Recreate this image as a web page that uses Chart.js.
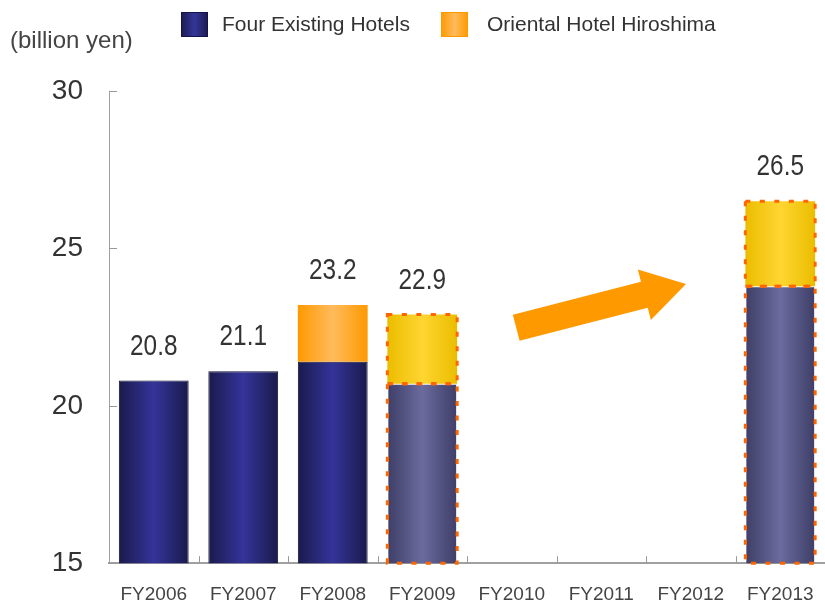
<!DOCTYPE html>
<html>
<head>
<meta charset="utf-8">
<script src="https://cdn.jsdelivr.net/npm/chart.js@4"></script>
<style>
  html, body { margin: 0; padding: 0; background: #fff; overflow: hidden; }
  #wrap { width: 825px; height: 606px; position: relative; }
</style>
</head>
<body>
<div id="wrap"><canvas id="salesChart"></canvas></div>
<script>
// values (billion yen)
const years = ['FY2006', 'FY2007', 'FY2008', 'FY2009', 'FY2010', 'FY2011', 'FY2012', 'FY2013'];
const existingHotels = [20.8, 21.1, 21.4, 20.7, null, null, null, 23.8];
const hiroshimaHotel = [0, 0, 1.8, 2.2, null, null, null, 2.7];
const totalLabels = ['20.8', '21.1', '23.2', '22.9', null, null, null, '26.5'];
const isPlan = [false, false, false, true, false, false, false, true];
const yTicks = [15, 20, 25, 30];

const SANS = "'Liberation Sans', Arial, sans-serif";
const BAR_PCT = 0.78;

// horizontal shading across each bar: dark edges, lighter middle
function barShade(context, edge, middle) {
    const chart = context.chart;
    const xScale = chart.scales.x;
    if (!chart.chartArea || !xScale || context.dataIndex === undefined) return edge;
    const cx = xScale.getPixelForValue(context.dataIndex);
    const half = (xScale.width / years.length) * BAR_PCT / 2;
    const g = chart.ctx.createLinearGradient(cx - half, 0, cx + half, 0);
    g.addColorStop(0, edge);
    g.addColorStop(0.5, middle);
    g.addColorStop(1, edge);
    return g;
}

const extrasPlugin = {
    id: 'extras',
    afterDatasetsDraw(chart) {
        const ctx = chart.ctx;
        const area = chart.chartArea;
        const xScale = chart.scales.x;
        const yScale = chart.scales.y;

        // dashed outline round the plan bars
        ctx.save();
        ctx.beginPath();
        ctx.rect(area.left, area.top - 50, area.right - area.left + 5, area.bottom - area.top + 52);
        ctx.clip();
        ctx.strokeStyle = '#ff6600';
        ctx.lineWidth = 3;
        ctx.setLineDash([5, 9.5]);
        chart.data.datasets.forEach((ds, di) => {
            const meta = chart.getDatasetMeta(di);
            meta.data.forEach((bar, i) => {
                if (!isPlan[i] || ds.data[i] == null) return;
                const p = bar.getProps(['x', 'y', 'base', 'width'], true);
                const bottom = Math.min(p.base, area.bottom);
                ctx.strokeRect(p.x - p.width / 2, p.y, p.width, bottom - p.y);
            });
        });
        ctx.restore();

        // total labels above each stack (slightly narrow, like the original face)
        ctx.save();
        ctx.fillStyle = '#333';
        ctx.font = '29px ' + SANS;
        ctx.textAlign = 'center';
        ctx.textBaseline = 'middle';
        totalLabels.forEach((txt, i) => {
            if (!txt) return;
            const top = yScale.getPixelForValue((existingHotels[i] || 0) + (hiroshimaHotel[i] || 0));
            const x = xScale.getPixelForValue(i);
            ctx.save();
            ctx.translate(x, top - 34);
            ctx.scale(0.84, 1);
            ctx.fillText(txt, 0, 0);
            ctx.restore();
        });
        ctx.restore();

        // growth arrow from FY2010 towards FY2013
        const tail = { x: xScale.getPixelForValue(4.05), y: yScale.getPixelForValue(22.48) };
        const tip = { x: xScale.getPixelForValue(5.947), y: yScale.getPixelForValue(23.87) };
        const dx = tip.x - tail.x, dy = tip.y - tail.y;
        const len = Math.hypot(dx, dy);
        const ux = dx / len, uy = dy / len;
        const nx = -uy, ny = ux;
        const shaft = 13.5, head = 26, headLen = 43;
        const bx = tip.x - ux * headLen, by = tip.y - uy * headLen;
        ctx.save();
        ctx.fillStyle = '#ff9900';
        ctx.beginPath();
        ctx.moveTo(tail.x + nx * shaft, tail.y + ny * shaft);
        ctx.lineTo(bx + nx * shaft, by + ny * shaft);
        ctx.lineTo(bx + nx * head, by + ny * head);
        ctx.lineTo(tip.x, tip.y);
        ctx.lineTo(bx - nx * head, by - ny * head);
        ctx.lineTo(bx - nx * shaft, by - ny * shaft);
        ctx.lineTo(tail.x - nx * shaft, tail.y - ny * shaft);
        ctx.closePath();
        ctx.fill();
        ctx.restore();
    },
    afterDraw(chart) {
        const ctx = chart.ctx;
        const area = chart.chartArea;
        const xScale = chart.scales.x;
        const yScale = chart.scales.y;

        // small inward ticks
        ctx.save();
        ctx.strokeStyle = '#999';
        ctx.lineWidth = 1;
        ctx.beginPath();
        yTicks.forEach(v => {
            const y = Math.round(yScale.getPixelForValue(v)) + 0.5;
            ctx.moveTo(area.left, y);
            ctx.lineTo(area.left + 8, y);
        });
        for (let i = 1; i < years.length; i++) {
            const x = Math.round(xScale.getPixelForValue(i - 0.5)) + 0.5;
            ctx.moveTo(x, area.bottom);
            ctx.lineTo(x, area.bottom - 7);
        }
        ctx.stroke();
        ctx.restore();

        // unit label
        ctx.save();
        ctx.fillStyle = '#444';
        ctx.font = '24px ' + SANS;
        ctx.textBaseline = 'middle';
        ctx.fillText('(billion yen)', 10, 41);
        ctx.restore();

        // legend
        const items = [
            { text: 'Four Existing Hotels', x: 181, tx: 222, edge: '#1b1b4f', mid: '#353599', border: '#14144a' },
            { text: 'Oriental Hotel Hiroshima', x: 441, tx: 487, edge: '#ff9900', mid: '#ffbb5c', border: '#ff9900' }
        ];
        ctx.save();
        items.forEach(it => {
            const g = ctx.createLinearGradient(it.x, 0, it.x + 27, 0);
            g.addColorStop(0, it.edge);
            g.addColorStop(0.5, it.mid);
            g.addColorStop(1, it.edge);
            ctx.fillStyle = g;
            ctx.fillRect(it.x, 12, 27, 25);
            ctx.strokeStyle = it.border;
            ctx.lineWidth = 1;
            ctx.strokeRect(it.x + 0.5, 12.5, 26, 24);
            ctx.fillStyle = '#333';
            ctx.font = '21px ' + SANS;
            ctx.textBaseline = 'middle';
            ctx.fillText(it.text, it.tx, 25);
        });
        ctx.restore();
    }
};

new Chart(document.getElementById('salesChart'), {
    type: 'bar',
    data: {
        labels: years,
        datasets: [
            {
                label: 'Four Existing Hotels',
                data: existingHotels,
                backgroundColor: c => isPlan[c.dataIndex]
                    ? barShade(c, '#3e3e68', '#6b6b9e')
                    : barShade(c, '#1a1a4c', '#34349a'),
                borderColor: c => isPlan[c.dataIndex] ? 'rgba(0,0,0,0)' : '#101030',
                borderWidth: 1,
                borderSkipped: 'bottom',
                barPercentage: BAR_PCT,
                categoryPercentage: 1
            },
            {
                label: 'Oriental Hotel Hiroshima',
                data: hiroshimaHotel,
                backgroundColor: c => isPlan[c.dataIndex]
                    ? barShade(c, '#ebbd00', '#ffd531')
                    : barShade(c, '#ff9900', '#ffbb5c'),
                borderWidth: 0,
                barPercentage: BAR_PCT,
                categoryPercentage: 1
            }
        ]
    },
    options: {
        responsive: true,
        maintainAspectRatio: false,
        animation: false,
        layout: { padding: { top: 91, right: 0, left: 0, bottom: 0 } },
        plugins: {
            legend: { display: false },
            tooltip: { enabled: false }
        },
        scales: {
            x: {
                stacked: true,
                grid: { display: false, drawTicks: false },
                border: { color: '#a0a0a0', width: 2 },
                ticks: {
                    color: '#444',
                    padding: 20,
                    font: { family: SANS, size: 19 },
                    maxRotation: 0
                },
                afterFit(scale) {
                    scale.height = 38;
                    scale.paddingLeft = 0;
                    scale.paddingRight = 0;
                }
            },
            y: {
                stacked: true,
                min: 15,
                max: 30,
                grid: { display: false, drawTicks: false },
                border: { color: '#a0a0a0', width: 1 },
                afterBuildTicks(scale) { scale.ticks = yTicks.map(v => ({ value: v })); },
                ticks: {
                    color: '#333',
                    padding: 26,
                    font: { family: SANS, size: 28 }
                },
                afterFit(scale) { scale.width = 109; }
            }
        }
    },
    plugins: [extrasPlugin]
});
</script>
</body>
</html>
